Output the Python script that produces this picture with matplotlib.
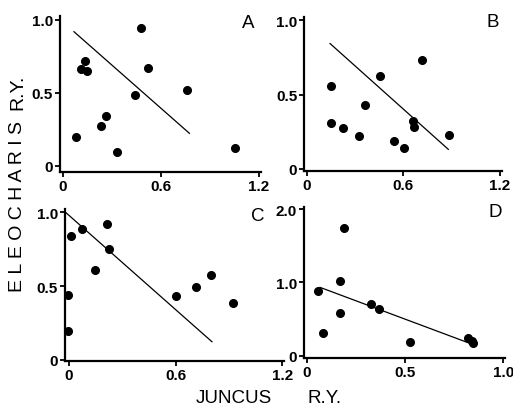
import matplotlib
matplotlib.use("Agg")
import matplotlib.pyplot as plt

plt.rcParams['font.family'] = ['Liberation Sans', 'DejaVu Sans']

# relative yield data (x = Juncus R.Y., y = Eleocharis R.Y.)
a_x = [0.078, 0.112, 0.133, 0.147, 0.235, 0.263, 0.333, 0.443, 0.476, 0.523, 0.761, 1.051]
a_y = [0.197, 0.662, 0.719, 0.651, 0.276, 0.340, 0.098, 0.486, 0.947, 0.669, 0.518, 0.123]
a_line_x = [0.067, 0.774]
a_line_y = [0.920, 0.224]

b_x = [0.151, 0.151, 0.226, 0.323, 0.360, 0.455, 0.542, 0.604, 0.660, 0.664, 0.718, 0.884]
b_y = [0.560, 0.308, 0.275, 0.223, 0.429, 0.625, 0.185, 0.141, 0.324, 0.283, 0.734, 0.225]
b_line_x = [0.145, 0.879]
b_line_y = [0.842, 0.132]

c_x = [-0.008, -0.004, 0.009, 0.071, 0.148, 0.214, 0.225, 0.600, 0.712, 0.799, 0.924]
c_y = [0.439, 0.197, 0.839, 0.889, 0.609, 0.919, 0.753, 0.432, 0.491, 0.575, 0.387]
c_line_x = [-0.019, 0.804]
c_line_y = [1.000, 0.122]

d_x = [0.059, 0.081, 0.168, 0.168, 0.192, 0.327, 0.368, 0.527, 0.822, 0.839, 0.847]
d_y = [0.886, 0.314, 1.023, 0.586, 1.745, 0.709, 0.641, 0.182, 0.241, 0.205, 0.177]
d_line_x = [0.068, 0.839]
d_line_y = [0.932, 0.159]

xticks_abc = [0, 0.6, 1.2]
xlabels_abc = ['0', '0.6', '1.2']
yticks_abc = [0, 0.5, 1.0]
ylabels_abc = ['0', '0.5', '1.0']
xticks_d = [0, 0.5, 1.0]
xlabels_d = ['0', '0.5', '1.0']
yticks_d = [0, 1.0, 2.0]
ylabels_d = ['0', '1.0', '2.0']

W, H = 513, 410
fig = plt.figure(figsize=(W / 100, H / 100), dpi=100)


def place(x0, sx, y0, sy, xlim, ylim):
    """axes rect from the pixel position of the data origin and pixels per unit"""
    left = x0 + xlim[0] * sx
    right = x0 + xlim[1] * sx
    bottom = y0 - ylim[0] * sy
    top = y0 - ylim[1] * sy
    return [left / W, 1 - bottom / H, (right - left) / W, (bottom - top) / H]


panels = [
    ('A', a_x, a_y, a_line_x, a_line_y, (63, 163.3, 167, 146), (-0.018, 1.21), (-0.04, 1.03),
     xticks_abc, xlabels_abc, yticks_abc, ylabels_abc, (1.133, 0.986)),
    ('B', b_x, b_y, b_line_x, b_line_y, (306.7, 161.1, 170, 149), (-0.015, 1.21), (-0.015, 1.02),
     xticks_abc, xlabels_abc, yticks_abc, ylabels_abc, (1.156, 0.987)),
    ('C', c_x, c_y, c_line_x, c_line_y, (69, 177.8, 360.7, 147.3), (-0.0225, 1.21), (-0.01, 1.02),
     xticks_abc, xlabels_abc, yticks_abc, ylabels_abc, (1.063, 0.976)),
    ('D', d_x, d_y, d_line_x, d_line_y, (306.7, 196.7, 356.7, 73.3), (-0.014, 1.01), (-0.03, 2.03),
     xticks_d, xlabels_d, yticks_d, ylabels_d, (0.957, 1.974)),
]

for (letter, xs, ys, lx, ly, px, xlim, ylim,
     xt, xtl, yt, ytl, lpos) in panels:
    ax = fig.add_axes(place(*px, xlim, ylim))
    ax.plot(xs, ys, 'o', color='black', markersize=5.5, clip_on=False)
    ax.plot(lx, ly, '-', color='black', linewidth=0.9)
    ax.set_xlim(xlim)
    ax.set_ylim(ylim)
    ax.set_xticks(xt)
    ax.set_xticklabels(xtl)
    ax.set_yticks(yt)
    ax.set_yticklabels(ytl)
    for s in ['top', 'right']:
        ax.spines[s].set_visible(False)
    for s in ['left', 'bottom']:
        ax.spines[s].set_linewidth(1.6)
    ax.tick_params(axis='both', direction='out', length=3.5, width=1.3, pad=1.5,
                   labelsize=11)
    for lab in ax.get_xticklabels() + ax.get_yticklabels():
        lab.set_fontweight('bold')
    ax.text(lpos[0], lpos[1], letter, fontsize=13.5, ha='center', va='center',
            clip_on=False)

# axis titles, letter-spaced like the original lettering
fig.text(18 / W, 1 - 207 / H, 'E L E O C H A R I S', rotation=90, fontsize=14,
         ha='center', va='center')
fig.text(18 / W, 1 - 92 / H, 'R.Y.', rotation=90, fontsize=14,
         ha='center', va='center')
fig.text(234 / W, 1 - 399 / H, 'JUNCUS', fontsize=13.5,
         ha='center', va='center')
fig.text(325 / W, 1 - 399 / H, 'R.Y.', fontsize=13.5,
         ha='center', va='center')

fig.savefig('out.png', dpi=100)
